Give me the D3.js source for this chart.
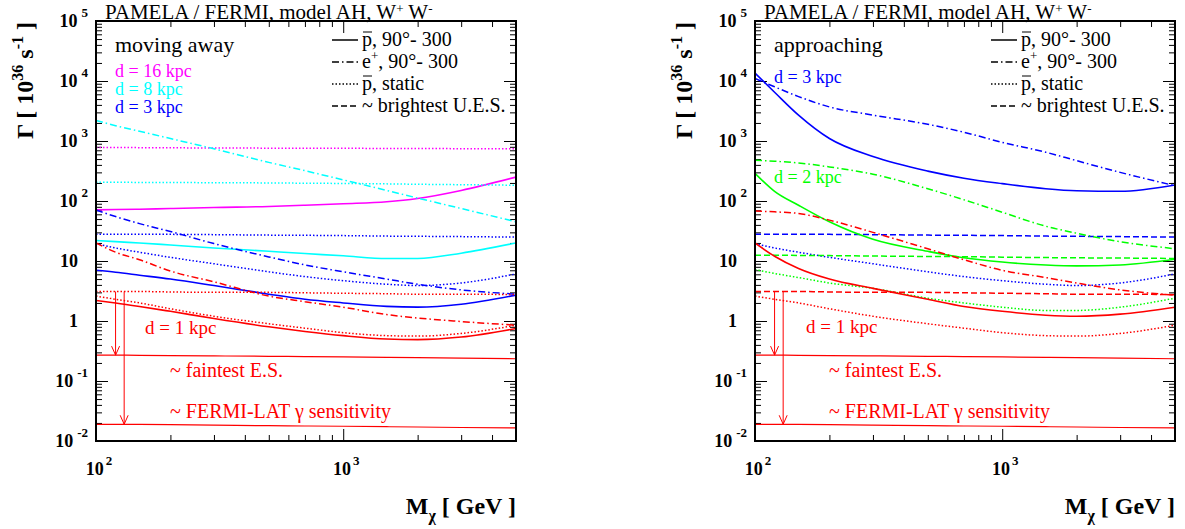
<!DOCTYPE html>
<html lang="en">
<head>
<meta charset="utf-8" />
<title>PAMELA / FERMI, model AH</title>
<script src="https://cdnjs.cloudflare.com/ajax/libs/d3/7.8.5/d3.min.js"></script>
<style>
  body { margin: 0; background: #fff; }
</style>
</head>
<body>
<svg id="chart" width="1185" height="529" font-family="Liberation Serif, DejaVu Serif, serif"></svg>
<script>
// dark matter mass grid (GeV)
const mass = [100, 120, 150, 200, 300, 500, 700, 1000, 1500, 2000, 3000, 5000];

// moving away
const awayMagentaP   = [71, 72, 73, 75, 78, 81, 85, 90, 97, 110, 150, 250];
const awayMagentaUES = [780, 780, 775, 770, 765, 760, 758, 755, 752, 750, 745, 740];
const awayCyanE      = [2200, 1800, 1450, 1100, 740, 440, 320, 225, 150, 112, 75, 45];
const awayCyanUES    = [205, 205, 204, 203, 202, 200, 198, 196, 193, 190, 187, 183];
const awayCyanP      = [22, 21, 20, 18.5, 16.5, 14.5, 13.3, 12.2, 11, 11, 13.5, 20];
const awayBlueE      = [71, 55, 42, 31, 19.5, 11.7, 8.6, 6.6, 5, 4.1, 3.3, 2.8];
const awayBlueP      = [7, 6.5, 5.8, 5, 3.9, 2.8, 2.3, 2.0, 1.75, 1.7, 1.9, 2.7];
const awayRedE       = [20, 14, 10.5, 6.8, 4.5, 2.6, 2.1, 1.7, 1.28, 1.12, 0.98, 0.85];
const awayRedP       = [2.2, 2.0, 1.75, 1.45, 1.1, 0.8, 0.67, 0.57, 0.5, 0.49, 0.54, 0.75];

// approaching
const apprBlueP  = [13500, 6500, 2700, 1100, 550, 315, 240, 195, 160, 148, 145, 185];
const apprBlueE  = [11000, 8000, 5500, 3700, 2700, 1900, 1400, 950, 650, 470, 300, 180];
const apprGreenP = [290, 145, 85, 45, 23, 14.5, 11.3, 9.6, 8.6, 8.3, 8.6, 10.7];
const apprGreenE = [480, 460, 430, 370, 280, 160, 105, 65, 38, 29, 21, 16];
const apprRedP   = [20, 12, 7.5, 5, 3.5, 2.3, 1.75, 1.45, 1.25, 1.2, 1.3, 1.7];
const apprRedE   = [68, 66, 62, 48, 30, 16, 10.5, 7, 5.3, 4.3, 3.3, 2.7];

// static antiprotons and brightest unidentified sources (same in both panels)
const blueStatic  = [19.5, 16.5, 14, 11.5, 9, 6.6, 5.5, 4.7, 4.1, 3.9, 4.3, 6.1];
const greenStatic = [7.2, 6.2, 5.3, 4.3, 3.5, 2.4, 2.0, 1.7, 1.5, 1.5, 1.7, 2.4];
const redStatic   = [2.6, 2.3, 2.0, 1.6, 1.2, 0.9, 0.76, 0.64, 0.57, 0.56, 0.62, 0.85];
const blueUES     = [28, 28, 28, 27.8, 27.5, 27, 26.8, 26.5, 26, 25.8, 25.5, 25];
const greenUES    = [12.5, 12.5, 12.4, 12.3, 12.1, 11.9, 11.8, 11.6, 11.4, 11.3, 11.2, 11];
const redUES      = [3.1, 3.1, 3.1, 3.05, 3.0, 3.0, 2.95, 2.9, 2.85, 2.8, 2.8, 2.75];
const faintestES  = [0.27, 0.27, 0.268, 0.265, 0.262, 0.258, 0.255, 0.252, 0.248, 0.245, 0.24, 0.235];
const fermiLat    = [0.019, 0.019, 0.0189, 0.0187, 0.0184, 0.018, 0.0178, 0.0176, 0.0173, 0.0171, 0.0168, 0.0165];

// arrows from the U.E.S. level down to the sensitivities
const arrowMass = [120, 130];
const arrowFrom = [3.1, 3.1];
const arrowTo   = [0.27, 0.019];

// axis labels
const yTicks    = [0.01, 0.1, 1, 10, 100, 1000, 10000, 100000];
const yTickBase = ['10', '10', '1', '10', '10', '10', '10', '10'];
const yTickExp  = ['-2', '-1', '', '', '2', '3', '4', '5'];
const xTicks    = [100, 1000];
const xTickExp  = ['2', '3'];

const RED = '#ff0000', BLUE = '#0000ff', GREEN = '#00ff00', CYAN = '#00ffff', MAGENTA = '#ff00ff';
const dash = { solid: null, dashdot: '7,3,1.5,3', dotted: '1.5,2', dashed: '6,3' };

const svg = d3.select('#chart');
const frameTop = 21, frameBottom = 441, frameW = 420;
const y = d3.scaleLog().domain([0.01, 1e5]).range([frameBottom, frameTop]);

const panels = [
  {
    left: 96,
    label: 'moving away',
    dists: [['d = 16 kpc', MAGENTA, 77], ['d = 8 kpc', CYAN, 95], ['d = 3 kpc', BLUE, 113]],
    near: [49, 334],
    series: [
      [awayMagentaUES, MAGENTA, 'dotted'], [awayMagentaP, MAGENTA, 'solid'],
      [awayCyanE, CYAN, 'dashdot'], [awayCyanUES, CYAN, 'dotted'], [awayCyanP, CYAN, 'solid'],
      [blueUES, BLUE, 'dotted'], [awayBlueE, BLUE, 'dashdot'], [blueStatic, BLUE, 'dotted'], [awayBlueP, BLUE, 'solid'],
      [awayRedE, RED, 'dashdot'], [redUES, RED, 'dotted'], [redStatic, RED, 'dotted'], [awayRedP, RED, 'solid']
    ]
  },
  {
    left: 755,
    label: 'approaching',
    dists: [['d = 3 kpc', BLUE, 83], ['d = 2 kpc', GREEN, 183]],
    near: [51, 333],
    series: [
      [apprBlueE, BLUE, 'dashdot'], [apprBlueP, BLUE, 'solid'], [blueUES, BLUE, 'dashed'], [blueStatic, BLUE, 'dotted'],
      [apprGreenE, GREEN, 'dashdot'], [apprGreenP, GREEN, 'solid'], [greenUES, GREEN, 'dashed'], [greenStatic, GREEN, 'dotted'],
      [apprRedE, RED, 'dashdot'], [apprRedP, RED, 'solid'], [redUES, RED, 'dashed'], [redStatic, RED, 'dotted']
    ]
  }
];

function isDecade(v) {
  const l = Math.log10(v);
  return Math.abs(l - Math.round(l)) < 1e-6;
}

function styleAxis(sel) {
  sel.select('.domain').remove();
  sel.selectAll('text').remove();
  sel.selectAll('line').attr('stroke', '#000').attr('stroke-width', 1);
}

// "p" with a bar on top
function pbar(g, x0, base) {
  g.append('line').attr('x1', x0 + 1).attr('x2', x0 + 10).attr('y1', base - 14).attr('y2', base - 14)
    .attr('stroke', '#000').attr('stroke-width', 1);
}

function drawPanel(p) {
  const left = p.left, right = left + frameW;
  const x = d3.scaleLog().domain([100, 5000]).range([left, right]);
  const g = svg.append('g').attr('font-family', 'Liberation Serif, DejaVu Serif, serif');

  const clipId = 'clip' + left;
  g.append('clipPath').attr('id', clipId)
    .append('rect').attr('x', left).attr('y', frameTop).attr('width', frameW).attr('height', frameBottom - frameTop);

  // ticks on all four sides, pointing inwards
  const yMinor = y.ticks().filter(v => !isDecade(v));
  const xMinor = x.ticks().filter(v => !isDecade(v));
  g.append('g').attr('transform', `translate(${left},0)`).call(d3.axisLeft(y).tickValues(yTicks).tickSize(-12)).call(styleAxis);
  g.append('g').attr('transform', `translate(${left},0)`).call(d3.axisLeft(y).tickValues(yMinor).tickSize(-6)).call(styleAxis);
  g.append('g').attr('transform', `translate(${right},0)`).call(d3.axisRight(y).tickValues(yTicks).tickSize(-12)).call(styleAxis);
  g.append('g').attr('transform', `translate(${right},0)`).call(d3.axisRight(y).tickValues(yMinor).tickSize(-6)).call(styleAxis);
  g.append('g').attr('transform', `translate(0,${frameBottom})`).call(d3.axisBottom(x).tickValues(xTicks).tickSize(-12)).call(styleAxis);
  g.append('g').attr('transform', `translate(0,${frameBottom})`).call(d3.axisBottom(x).tickValues(xMinor).tickSize(-6)).call(styleAxis);
  g.append('g').attr('transform', `translate(0,${frameTop})`).call(d3.axisTop(x).tickValues(xTicks).tickSize(-12)).call(styleAxis);
  g.append('g').attr('transform', `translate(0,${frameTop})`).call(d3.axisTop(x).tickValues(xMinor).tickSize(-6)).call(styleAxis);

  // y tick labels
  yTicks.forEach((v, i) => {
    const exp = yTickExp[i];
    const t = g.append('text')
      .attr('text-anchor', 'end')
      .attr('font-weight', 'bold')
      .attr('font-size', 18)
      .attr('x', exp ? left - 8 : left - 18)
      .attr('y', y(v) + 6);
    t.append('tspan').text(yTickBase[i]);
    if (exp) t.append('tspan').attr('dx', 4).attr('dy', -10).attr('font-size', 13).text(exp);
  });

  // x tick labels
  xTicks.forEach((v, i) => {
    const t = g.append('text')
      .attr('text-anchor', 'middle')
      .attr('font-weight', 'bold')
      .attr('font-size', 18)
      .attr('x', x(v) + 3)
      .attr('y', 475);
    t.append('tspan').text('10');
    t.append('tspan').attr('dx', 2).attr('dy', -10).attr('font-size', 13).text(xTickExp[i]);
  });

  // curves
  const line = d3.line()
    .x((d, i) => x(mass[i]))
    .y(d => y(d))
    .curve(d3.curveMonotoneX);
  const curves = g.append('g').attr('clip-path', `url(#${clipId})`);
  p.series.forEach(s => {
    curves.append('path')
      .attr('d', line(s[0]))
      .attr('fill', 'none')
      .attr('stroke', s[1])
      .attr('stroke-width', s[2] === 'solid' ? 1.6 : 1.5)
      .attr('stroke-dasharray', dash[s[2]]);
  });
  [faintestES, fermiLat].forEach(arr => {
    curves.append('path').attr('d', line(arr))
      .attr('fill', 'none').attr('stroke', RED).attr('stroke-width', 1.2);
  });

  // arrows
  arrowMass.forEach((m, i) => {
    const ax = x(m), y0 = y(arrowFrom[i]), y1 = y(arrowTo[i]);
    g.append('line').attr('x1', ax).attr('x2', ax).attr('y1', y0).attr('y2', y1)
      .attr('stroke', RED).attr('stroke-width', 1);
    g.append('path').attr('d', `M${ax - 4},${y1 - 9}L${ax},${y1}L${ax + 4},${y1 - 9}`)
      .attr('fill', 'none').attr('stroke', RED).attr('stroke-width', 1);
  });

  // frame
  g.append('rect').attr('x', left).attr('y', frameTop).attr('width', frameW).attr('height', frameBottom - frameTop)
    .attr('fill', 'none').attr('stroke', '#000').attr('stroke-width', 2);

  // title
  const title = g.append('text').attr('x', left + 9).attr('y', 19).attr('font-size', 21);
  title.append('tspan').text('PAMELA / FERMI, model AH, W');
  title.append('tspan').attr('dy', -6).attr('font-size', 13).text('+');
  title.append('tspan').attr('dy', 6).text(' W');
  title.append('tspan').attr('dy', -6).attr('font-size', 13).text('-');

  // legend
  const legRows = [40, 62, 84, 106];
  const legStyles = ['solid', 'dashdot', 'dotted', 'dashed'];
  const tx = left + 266;
  legRows.forEach((ry, i) => {
    g.append('line').attr('x1', left + 236).attr('x2', left + 262).attr('y1', ry).attr('y2', ry)
      .attr('stroke', '#000').attr('stroke-width', 1.5).attr('stroke-dasharray', dash[legStyles[i]]);
  });
  const lt = (ry) => g.append('text').attr('x', tx).attr('y', ry + 6).attr('font-size', 20);
  lt(legRows[0]).text('p, 90°- 300');
  pbar(g, tx, legRows[0] + 6);
  let t = lt(legRows[1]);
  t.append('tspan').text('e');
  t.append('tspan').attr('dy', -8).attr('font-size', 13).text('+');
  t.append('tspan').attr('dy', 8).text(', 90°- 300');
  lt(legRows[2]).text('p, static');
  pbar(g, tx, legRows[2] + 6);
  lt(legRows[3]).text('~ brightest U.E.S.');

  // panel labels
  g.append('text').attr('x', left + 19).attr('y', 52).attr('font-size', 22).text(p.label);
  p.dists.forEach(d => {
    g.append('text').attr('x', left + 19).attr('y', d[2]).attr('font-size', 18).attr('fill', d[1]).text(d[0]);
  });
  g.append('text').attr('x', left + p.near[0]).attr('y', p.near[1]).attr('font-size', 19).attr('fill', RED).text('d = 1 kpc');
  g.append('text').attr('x', left + 74).attr('y', 377).attr('font-size', 20).attr('fill', RED).text('~ faintest E.S.');
  g.append('text').attr('x', left + 74).attr('y', 418).attr('font-size', 20).attr('fill', RED).text('~ FERMI-LAT γ sensitivity');

  // axis titles
  const yt = g.append('text')
    .attr('transform', `translate(${left - 63},${frameTop + 1}) rotate(-90)`)
    .attr('text-anchor', 'end')
    .attr('font-weight', 'bold')
    .attr('font-size', 24);
  yt.append('tspan').text('Γ [ 10');
  yt.append('tspan').attr('dy', -10).attr('font-size', 16).text('36');
  yt.append('tspan').attr('dy', 10).text(' s');
  yt.append('tspan').attr('dy', -10).attr('font-size', 16).text('-1');
  yt.append('tspan').attr('dy', 10).text(' ]');

  const xt = g.append('text')
    .attr('x', right)
    .attr('y', 514)
    .attr('text-anchor', 'end')
    .attr('font-weight', 'bold')
    .attr('font-size', 24);
  xt.append('tspan').text('M');
  xt.append('tspan').attr('dy', 7).attr('font-size', 16).text('χ');
  xt.append('tspan').attr('dy', -7).text(' [ GeV ]');
}

panels.forEach(drawPanel);
</script>
</body>
</html>
